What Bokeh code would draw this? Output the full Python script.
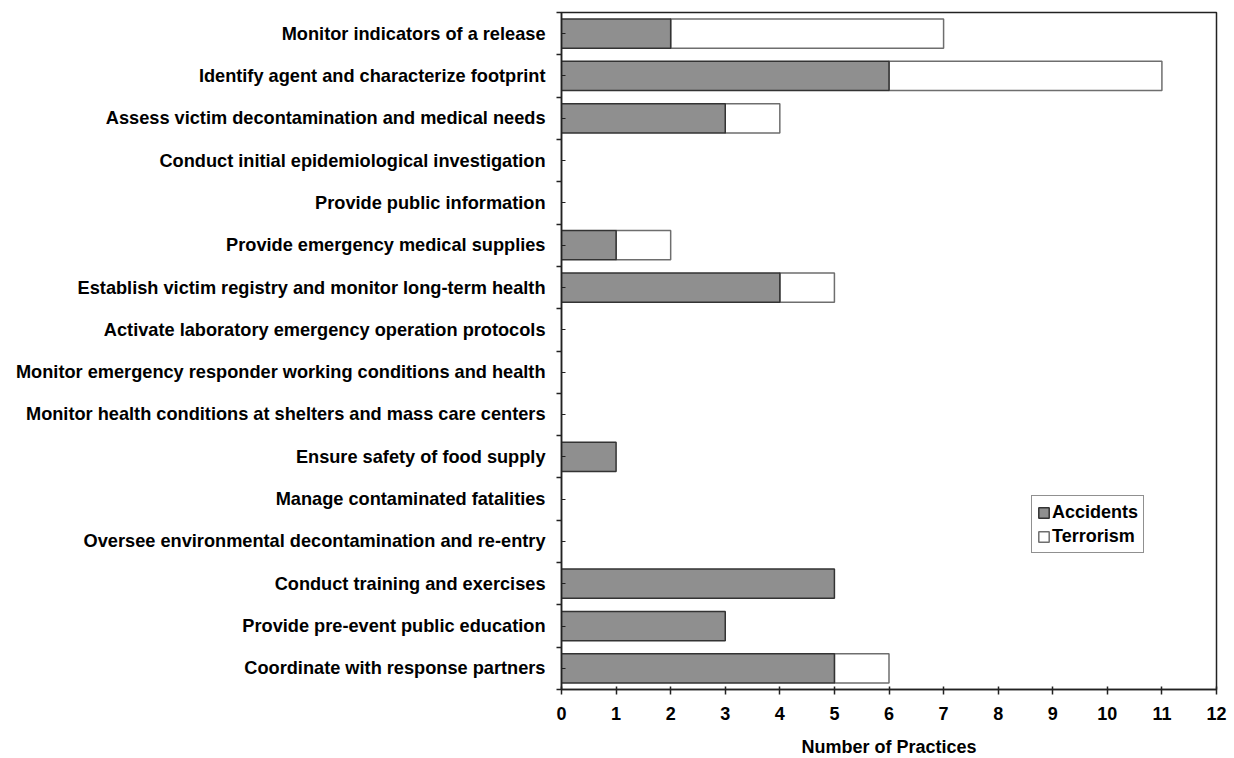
from bokeh.plotting import figure
from bokeh.models import ColumnDataSource, FixedTicker, Legend, LegendItem, Range1d
from bokeh.embed import file_html
from bokeh.resources import INLINE

categories = [
    "Monitor indicators of a release",
    "Identify agent and characterize footprint",
    "Assess victim decontamination and medical needs",
    "Conduct initial epidemiological investigation",
    "Provide public information",
    "Provide emergency medical supplies",
    "Establish victim registry and monitor long-term health",
    "Activate laboratory emergency operation protocols",
    "Monitor emergency responder working conditions and health",
    "Monitor health conditions at shelters and mass care centers",
    "Ensure safety of food supply",
    "Manage contaminated fatalities",
    "Oversee environmental decontamination and re-entry",
    "Conduct training and exercises",
    "Provide pre-event public education",
    "Coordinate with response partners",
]
accidents = [2, 6, 3, 0, 0, 1, 4, 0, 0, 0, 1, 0, 0, 5, 3, 5]
terrorism = [5, 5, 1, 0, 0, 1, 1, 0, 0, 0, 0, 0, 0, 0, 0, 1]
x_ticks = list(range(0, 13))

n = len(categories)
ypos = [n - 0.5 - i for i in range(n)]
tot_end = [a + t for a, t in zip(accidents, terrorism)]

t_idx = [i for i in range(n) if terrorism[i] > 0]
tsrc = ColumnDataSource(dict(y=[ypos[i] for i in t_idx],
                             left=[accidents[i] for i in t_idx],
                             right=[tot_end[i] for i in t_idx]))
a_idx = [i for i in range(n) if accidents[i] > 0]
asrc = ColumnDataSource(dict(y=[ypos[i] for i in a_idx],
                             left=[0] * len(a_idx),
                             right=[accidents[i] for i in a_idx]))

p = figure(width=1228, height=756, output_backend="svg", toolbar_location=None,
           x_range=Range1d(0, 12), y_range=Range1d(0, n),
           min_border_left=561, min_border_right=12, min_border_top=12, min_border_bottom=67)
p.frame_width = 655
p.frame_height = 677

p.xgrid.visible = False
p.ygrid.visible = False
p.outline_line_color = "#222222"
p.outline_line_width = 1.5
p.background_fill_color = "white"
p.border_fill_color = "white"

rt = p.hbar(y="y", left="left", right="right", height=0.69, source=tsrc,
            fill_color="white", line_color="#6e6e6e", line_width=1.5)
ra = p.hbar(y="y", left="left", right="right", height=0.69, source=asrc,
            fill_color="#8f8f8f", line_color="#333333", line_width=1.5)

FONT = "Liberation Sans"

p.xaxis.ticker = FixedTicker(ticks=x_ticks)
p.xaxis.axis_line_color = "#222222"
p.xaxis.axis_line_width = 1.5
p.xaxis.major_tick_in = 3
p.xaxis.major_tick_out = 5
p.xaxis.major_tick_line_color = "#222222"
p.xaxis.major_tick_line_width = 1.5
p.xaxis.minor_tick_line_color = None
p.xaxis.major_label_text_font = FONT
p.xaxis.major_label_text_font_style = "bold"
p.xaxis.major_label_text_font_size = "18px"
p.xaxis.major_label_text_color = "black"
p.xaxis.major_label_standoff = 12
p.xaxis.axis_label = "Number of Practices"
p.xaxis.axis_label_text_font = FONT
p.xaxis.axis_label_text_font_style = "bold"
p.xaxis.axis_label_text_font_size = "18px"
p.xaxis.axis_label_text_color = "black"
p.xaxis.axis_label_standoff = 14

p.yaxis.ticker = FixedTicker(ticks=ypos, minor_ticks=list(range(0, n + 1)))
p.yaxis.major_label_overrides = {y: c for y, c in zip(ypos, categories)}
p.yaxis.axis_line_color = "#222222"
p.yaxis.axis_line_width = 1.5
p.yaxis.major_tick_in = 4
p.yaxis.major_tick_out = 0
p.yaxis.major_tick_line_color = "#222222"
p.yaxis.minor_tick_in = 0
p.yaxis.minor_tick_out = 5
p.yaxis.minor_tick_line_color = "#222222"
p.yaxis.minor_tick_line_width = 1.5
p.yaxis.major_label_text_font = FONT
p.yaxis.major_label_text_font_style = "bold"
p.yaxis.major_label_text_font_size = "18.2px"
p.yaxis.major_label_text_color = "black"
p.yaxis.major_label_standoff = 11

legend = Legend(items=[LegendItem(label="Accidents", renderers=[ra]),
                       LegendItem(label="Terrorism", renderers=[rt])],
                location=(470, 136))
legend.border_line_color = "#222222"
legend.border_line_width = 1.5
legend.label_text_font = FONT
legend.label_text_font_style = "bold"
legend.label_text_font_size = "18px"
legend.label_text_color = "black"
legend.label_standoff = 2
legend.label_height = 22
legend.glyph_width = 13
legend.glyph_height = 13
legend.padding = 5
legend.spacing = 2
legend.margin = 0
legend.background_fill_alpha = 1
p.add_layout(legend, "center")

open("out.html", "w").write(file_html(p, INLINE))
